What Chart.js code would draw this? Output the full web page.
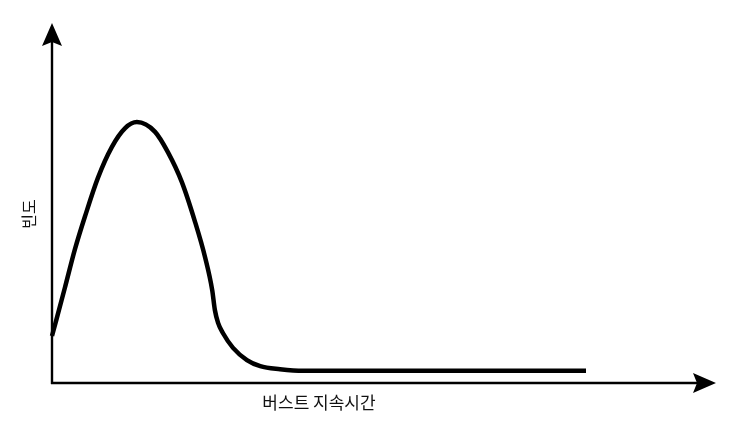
<!DOCTYPE html>
<html>
<head>
<meta charset="utf-8">
<script src="https://cdn.jsdelivr.net/npm/chart.js@4.4.0/dist/chart.umd.min.js"></script>
<style>
  html, body { margin: 0; padding: 0; background: #ffffff; }
  #wrap { width: 742px; height: 421px; }
</style>
</head>
<body>
<div id="wrap"><canvas id="c" width="742" height="421"></canvas></div>
<script>
// Burst duration (relative units) and frequency (relative units)
const burstDuration = [0, 2.4, 4.3, 6.2, 8.6, 11.2, 13.7, 15.9, 19.3, 21.7, 24.3, 26.8, 28.7, 30.0, 30.5, 31.1, 32.0, 33.9, 36.5, 39.0, 42.7, 47.0, 100];
const frequency     = [13.9, 28.1, 39.6, 49.4, 60.7, 69.8, 75.4, 77.2, 74.3, 68.3, 59.5, 47.6, 37.0, 27.5, 21.6, 17.8, 14.8, 10.4, 6.8, 5.0, 4.1, 3.6, 3.6];
const xAxisTitle = '버스트 지속시간';
const yAxisTitle = '빈도';

const points = burstDuration.map((x, i) => ({ x: x, y: frequency[i] }));

const arrowAxes = {
  id: 'arrowAxes',
  afterDraw(chart) {
    const { ctx, chartArea: a } = chart;
    const x0 = a.left, y0 = a.bottom;
    const yTip = 23, xTip = 716;
    ctx.save();
    ctx.strokeStyle = '#000';
    ctx.fillStyle = '#000';
    ctx.lineWidth = 2.4;
    ctx.beginPath();
    ctx.moveTo(x0, y0 + 1);
    ctx.lineTo(x0, yTip + 10);
    ctx.moveTo(x0 - 1, y0);
    ctx.lineTo(xTip - 10, y0);
    ctx.stroke();
    // y arrow head
    ctx.beginPath();
    ctx.moveTo(x0, yTip);
    ctx.lineTo(x0 + 10, yTip + 23);
    ctx.lineTo(x0, yTip + 19);
    ctx.lineTo(x0 - 10, yTip + 23);
    ctx.closePath();
    ctx.fill();
    // x arrow head
    ctx.beginPath();
    ctx.moveTo(xTip, y0);
    ctx.lineTo(xTip - 23, y0 - 10);
    ctx.lineTo(xTip - 19, y0);
    ctx.lineTo(xTip - 23, y0 + 10);
    ctx.closePath();
    ctx.fill();
    ctx.restore();
  }
};

const xTitleFont = { family: "'Noto Sans CJK KR', 'Noto Sans', sans-serif", size: 17, lineHeight: 1.2 };
const yTitleFont = { family: "'Noto Sans CJK KR', 'Noto Sans', sans-serif", size: 16, lineHeight: 1.2 };

new Chart(document.getElementById('c'), {
  type: 'line',
  data: {
    datasets: [{
      data: points,
      borderColor: '#000',
      borderWidth: 4.5,
      pointRadius: 0,
      cubicInterpolationMode: 'monotone',
      fill: false,
      clip: false,
      borderCapStyle: 'butt'
    }]
  },
  options: {
    responsive: false,
    animation: false,
    devicePixelRatio: 1,
    layout: { padding: { left: 19.4, right: 156, top: 45, bottom: 8 } },
    plugins: { legend: { display: false }, tooltip: { enabled: false } },
    scales: {
      x: {
        type: 'linear', min: 0, max: 100,
        grid: { display: false, drawTicks: false },
        border: { display: false },
        ticks: { display: false },
        title: { display: true, text: xAxisTitle, color: '#111', font: xTitleFont, padding: { top: 9.6, bottom: 0 } }
      },
      y: {
        type: 'linear', min: 0, max: 100,
        grid: { display: false, drawTicks: false },
        border: { display: false },
        ticks: { display: false },
        title: { display: true, text: yAxisTitle, color: '#111', font: yTitleFont, padding: { top: 0, bottom: 13.4 } }
      }
    }
  },
  plugins: [arrowAxes]
});
</script>
</body>
</html>
